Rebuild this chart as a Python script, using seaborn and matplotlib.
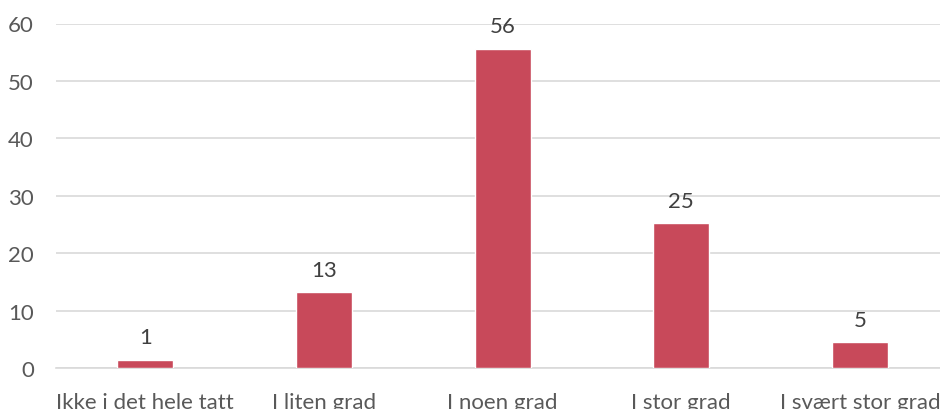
import matplotlib
matplotlib.use("Agg")
import matplotlib.pyplot as plt
import seaborn as sns
import pandas as pd

categories = ["Ikke i det hele tatt", "I liten grad", "I noen grad", "I stor grad", "I svært stor grad"]
values = [1.4, 13.2, 55.6, 25.2, 4.5]
value_labels = ["1", "13", "56", "25", "5"]
yticks = [0, 10, 20, 30, 40, 50, 60]

sns.set_theme(style="white")
plt.rcParams['font.family'] = ['Lato', 'DejaVu Sans']

df = pd.DataFrame({"cat": categories, "val": values})

fig = plt.figure(figsize=(9.4, 4.1), dpi=100)
ax = fig.add_axes([56/940, 41/410, 893.3/940, 344.5/410])

sns.barplot(data=df, x="cat", y="val", color="#C8495A", width=0.313, ax=ax,
            saturation=1, zorder=3)

ax.set_ylim(0, 60)
ax.set_yticks(yticks)
ax.set_xlim(-0.5, 4.5)
ax.yaxis.grid(True, color="#D9D9D9", linewidth=1.2, zorder=0)
ax.set_axisbelow(True)
for s in ["top", "right", "left"]:
    ax.spines[s].set_visible(False)
ax.spines["bottom"].set_color("#D9D9D9")
ax.spines["bottom"].set_linewidth(1.2)
ax.set_xlabel("")
ax.set_ylabel("")
ax.tick_params(axis="both", length=0, labelsize=16, labelcolor="#595959")
ax.tick_params(axis="x", pad=17)
ax.tick_params(axis="y", pad=16)
for lbl in ax.get_yticklabels():
    lbl.set_horizontalalignment("right")

for i, (v, t) in enumerate(zip(values, value_labels)):
    ax.annotate(t, (i, v), xytext=(0, 9), textcoords="offset points",
                ha="center", va="bottom", fontsize=16, color="#404040")

fig.savefig("out.png", dpi=100)
